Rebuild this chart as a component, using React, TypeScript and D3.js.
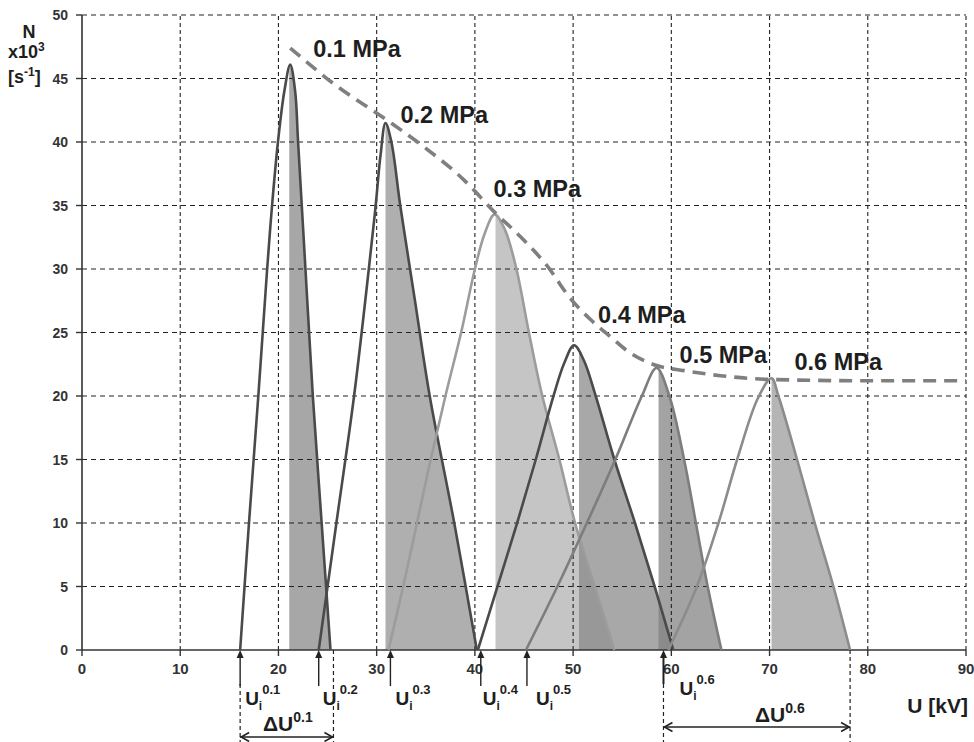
import React from "react";
import * as d3 from "d3";

// ---------- data ----------
const xTicks = [0, 10, 20, 30, 40, 50, 60, 70, 80, 90];
const yTicks = [0, 5, 10, 15, 20, 25, 30, 35, 40, 45, 50];
const pressures = ["0.1", "0.2", "0.3", "0.4", "0.5", "0.6"];

const u01 = [16.1, 17.0, 17.95, 18.85, 19.35, 19.95, 20.6, 21.2, 21.7, 22.0, 22.75, 23.5, 24.4, 25.3];
const n01 = [0, 10, 20, 30, 35, 40, 44, 46.1, 44, 40, 30, 20, 10, 0];

const u02 = [24.1, 25.9, 27.7, 29.2, 29.9, 30.4, 30.9, 31.5, 32.4, 33.9, 35.4, 37.9, 40.2];
const n02 = [0, 10, 20, 30, 35, 39, 41.5, 40, 35, 27.5, 20, 10, 0];

const u03 = [31.2, 32.7, 34.1, 35.5, 37.0, 38.6, 40.0, 41.0, 42.0, 43.0, 44.2, 45.5, 46.8, 48.6, 50.2, 52.2, 54.2];
const n03 = [0, 5, 10, 15, 20, 25, 30, 32.8, 34.3, 33.2, 30.1, 25, 20.2, 15, 10, 5, 0];

const u04 = [40.3, 42.3, 44.3, 46.2, 48.0, 49.1, 50.1, 51.1, 52.3, 54.2, 56.3, 58.3, 60.2];
const n04 = [0, 5, 10, 15, 20, 22.6, 24.0, 22.8, 20, 15, 10, 5, 0];

const u05 = [45.2, 48.4, 51.4, 54.3, 57.0, 58.5, 59.8, 61.3, 62.5, 63.7, 65.1];
const n05 = [0, 5, 10, 15, 20, 22.2, 20, 15, 10, 5, 0];

const u06 = [59.7, 62.6, 64.8, 66.7, 68.8, 70.2, 70.9, 72.8, 74.6, 76.5, 78.2];
const n06 = [0, 5, 10, 15, 19.8, 21.4, 20, 15, 10, 5, 0];

const shadeStart = [21.1, 30.9, 42.1, 50.6, 58.7, 70.2];
const peakU = [21.2, 30.9, 42.0, 50.1, 58.5, 70.2];
const peakN = [46.1, 41.5, 34.3, 24.0, 22.2, 21.4];

const envU = [21.2, 25.6, 30.9, 34.5, 38.9, 42.1, 44.7, 47.4, 49.8, 51.8, 53.9, 55.6, 58.5, 61.3, 65.0, 70.2, 80.0, 90.0];
const envN = [47.4, 44.6, 41.8, 39.8, 37.0, 34.4, 32.5, 30.2, 27.6, 26.0, 24.6, 23.5, 22.4, 22.0, 21.6, 21.3, 21.2, 21.2];

const uiValues = [16.1, 24.1, 31.4, 40.6, 45.3, 59.2];
const deltaU01 = [16.1, 25.6];
const deltaU06 = [59.2, 78.2];

// ---------- layout / style ----------
const curveU = [u01, u02, u03, u04, u05, u06];
const curveN = [n01, n02, n03, n04, n05, n06];
const strokeColors = ["#4a4a4a", "#4a4a4a", "#9c9c9c", "#4a4a4a", "#7d7d7d", "#8c8c8c"];
const shadeColors = ["#858585", "#909090", "#afafaf", "#878787", "#808080", "#989898"];
const labelOffsets: [number, number][] = [[23, -8], [15, 0], [-1, -17], [24, -22], [23, -5], [23, -8]];
const uiLabelDx = [5, 4, 5, 2, 9, 16];
const uiLabelY = [705, 705, 705, 705, 705, 695];

const FONT = "'Liberation Sans', Arial, Helvetica, sans-serif";

export default function App() {
  const x = d3.scaleLinear().domain([0, 90]).range([82, 966]);
  const y = d3.scaleLinear().domain([0, 50]).range([650, 15]);

  const series = curveU.map((us, i) => us.map((u, j) => [u, curveN[i][j]] as [number, number]));

  const smooth = d3.curveCatmullRom.alpha(0.5);
  const line = d3
    .line<[number, number]>()
    .x((d) => x(d[0]))
    .y((d) => y(d[1]))
    .curve(smooth);
  const area = d3
    .area<[number, number]>()
    .x((d) => x(d[0]))
    .y0(y(0))
    .y1((d) => y(d[1]))
    .curve(smooth);
  const envLine = d3
    .line<[number, number]>()
    .x((d) => x(d[0]))
    .y((d) => y(d[1]))
    .curve(d3.curveMonotoneX);

  const env = envU.map((u, i) => [u, envN[i]] as [number, number]);

  const textColor = "#1e1e1e";

  const upArrow = (px: number, y1: number, y2: number, key: string, bold = false) => (
    <g key={key}>
      <line x1={px} x2={px} y1={y1 + 6} y2={y2} stroke="#222" strokeWidth={bold ? 2 : 1.4} />
      <path d={`M${px - 3.5},${y1 + 8} L${px},${y1} L${px + 3.5},${y1 + 8} Z`} fill="#222" />
    </g>
  );

  const hDouble = (x1: number, x2: number, yy: number) => (
    <g>
      <line x1={x1} x2={x2} y1={yy} y2={yy} stroke="#222" strokeWidth={1.6} />
      <path d={`M${x1 + 9},${yy - 4.5} L${x1 + 1},${yy} L${x1 + 9},${yy + 4.5}`} fill="none" stroke="#222" strokeWidth={1.6} />
      <path d={`M${x2 - 9},${yy - 4.5} L${x2 - 1},${yy} L${x2 - 9},${yy + 4.5}`} fill="none" stroke="#222" strokeWidth={1.6} />
    </g>
  );

  return (
    <svg
      width={974}
      height={742}
      style={{ position: "absolute", left: 0, top: 0, background: "#fff" }}
      fontFamily={FONT}
    >
      <defs>
        {shadeStart.map((s, i) => (
          <clipPath id={`shade-clip-${i}`} key={i}>
            <rect x={x(s)} y={0} width={x(90) - x(s)} height={y(0)} />
          </clipPath>
        ))}
      </defs>
      <rect x={0} y={0} width={974} height={742} fill="#fff" />

      {/* shaded right parts */}
      {series.map((s, i) => (
        <path
          key={`sh${i}`}
          d={area(s) || ""}
          fill={shadeColors[i]}
          fillOpacity={0.72}
          clipPath={`url(#shade-clip-${i})`}
        />
      ))}

      {/* grid */}
      {xTicks.slice(1).map((t) => (
        <line key={`gx${t}`} x1={x(t)} x2={x(t)} y1={y(0)} y2={y(50)} stroke="#222" strokeWidth={1.1} strokeDasharray="4,3" />
      ))}
      {yTicks.slice(1).map((t) => (
        <line key={`gy${t}`} x1={x(0)} x2={x(90)} y1={y(t)} y2={y(t)} stroke="#222" strokeWidth={1.1} strokeDasharray="5,4" />
      ))}

      {/* axes */}
      <line x1={x(0)} x2={x(0)} y1={y(0)} y2={y(50)} stroke="#333" strokeWidth={1.6} />
      <line x1={x(0)} x2={x(90)} y1={y(0)} y2={y(0)} stroke="#333" strokeWidth={1.6} />
      {yTicks.map((t) => (
        <g key={`yt${t}`}>
          <line x1={x(0) - 6} x2={x(0)} y1={y(t)} y2={y(t)} stroke="#333" strokeWidth={1.4} />
          <text x={68} y={y(t) + 5} textAnchor="end" fontSize={14} fontWeight="bold" fill="#333">
            {t}
          </text>
        </g>
      ))}
      {xTicks.map((t) => (
        <g key={`xt${t}`}>
          <line x1={x(t)} x2={x(t)} y1={y(0)} y2={y(0) + 6} stroke="#333" strokeWidth={1.4} />
          <text x={x(t)} y={674} textAnchor="middle" fontSize={15} fontWeight="bold" fill="#333">
            {t}
          </text>
        </g>
      ))}

      {/* curves */}
      {series.map((s, i) => (
        <path key={`c${i}`} d={line(s) || ""} fill="none" stroke={strokeColors[i]} strokeWidth={2.6} />
      ))}

      {/* envelope */}
      <path d={envLine(env) || ""} fill="none" stroke="#7f7f7f" strokeWidth={3.6} strokeDasharray="13,8" />

      {/* pressure labels */}
      {pressures.map((p, i) => (
        <text
          key={`pl${i}`}
          x={x(peakU[i]) + labelOffsets[i][0]}
          y={y(peakN[i]) + labelOffsets[i][1]}
          fontSize={23.5}
          fontWeight="bold"
          fill={textColor}
        >
          {p} MPa
        </text>
      ))}

      {/* axis titles */}
      <text x={29} y={38} textAnchor="middle" fontSize={18} fontWeight="bold" fill={textColor}>N</text>
      <text x={8} y={58} fontSize={18} fontWeight="bold" fill={textColor}>
        x10<tspan fontSize={12} dy={-7}>3</tspan>
      </text>
      <text x={8} y={83} fontSize={18} fontWeight="bold" fill={textColor}>
        [s<tspan fontSize={12} dy={-7}>-1</tspan><tspan dy={7}>]</tspan>
      </text>
      <text x={968} y={713} textAnchor="end" fontSize={21} fontWeight="bold" fill={textColor}>U [kV]</text>

      {/* Ui arrows and labels */}
      {uiValues.map((u, i) => {
        const px = x(u);
        const bottom = i === 5 ? 684 : 686;
        return (
          <g key={`ui${i}`}>
            {upArrow(px, y(0), bottom, `a${i}`, i === 5)}
            <text x={px + uiLabelDx[i]} y={uiLabelY[i]} fontSize={19} fontWeight="bold" fill={textColor}>
              U<tspan fontSize={12} dy={5}>i</tspan>
              <tspan fontSize={13} dy={-16}>{pressures[i]}</tspan>
            </text>
          </g>
        );
      })}

      {/* delta U 0.1 */}
      <line x1={x(deltaU01[0])} x2={x(deltaU01[0])} y1={684} y2={742} stroke="#222" strokeWidth={1.2} strokeDasharray="4,3" />
      <line x1={x(deltaU01[1])} x2={x(deltaU01[1])} y1={y(0)} y2={742} stroke="#222" strokeWidth={1.2} strokeDasharray="4,3" />
      {hDouble(x(deltaU01[0]), x(deltaU01[1]), 737)}
      <text x={263} y={731} fontSize={21} fontWeight="bold" fill={textColor}>
        ΔU<tspan fontSize={14} dy={-9}>0.1</tspan>
      </text>

      {/* delta U 0.6 */}
      <line x1={x(deltaU06[0])} x2={x(deltaU06[0])} y1={684} y2={742} stroke="#222" strokeWidth={1.2} strokeDasharray="4,3" />
      <line x1={x(deltaU06[1])} x2={x(deltaU06[1])} y1={y(0)} y2={742} stroke="#222" strokeWidth={1.2} strokeDasharray="4,3" />
      {hDouble(x(deltaU06[0]), x(deltaU06[1]), 727)}
      <text x={755} y={722} fontSize={21} fontWeight="bold" fill={textColor}>
        ΔU<tspan fontSize={14} dy={-9}>0.6</tspan>
      </text>
    </svg>
  );
}
